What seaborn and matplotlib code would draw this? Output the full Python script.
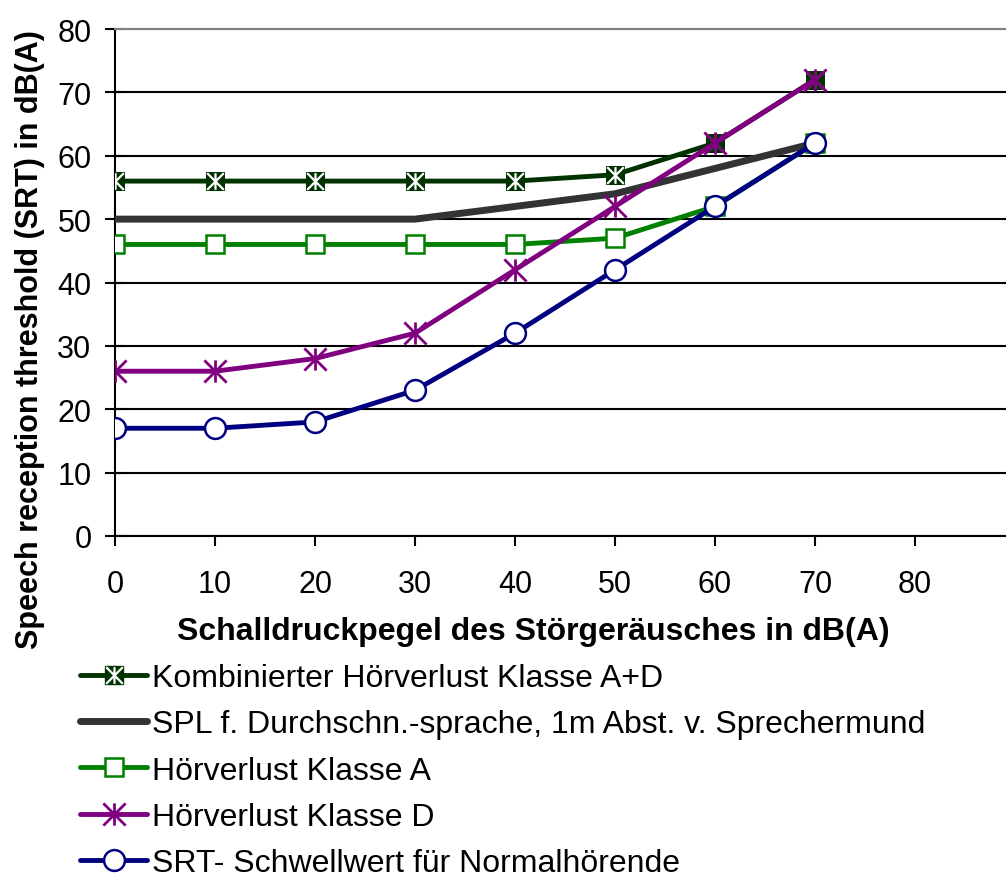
import matplotlib
matplotlib.use("Agg")
import matplotlib.pyplot as plt
import seaborn as sns
import pandas as pd
from matplotlib.legend_handler import HandlerTuple
from matplotlib.lines import Line2D
from matplotlib.path import Path

x_db = [0, 10, 20, 30, 40, 50, 60, 70]
kombiniert = [56, 56, 56, 56, 56, 57, 62, 72]
spl = [50, 50, 50, 50, 52, 54, 58, 62]
klasse_a = [46, 46, 46, 46, 46, 47, 52, 62]
klasse_d = [26, 26, 28, 32, 42, 52, 62, 72]
srt = [17, 17, 18, 23, 32, 42, 52, 62]

labels = [
    "Kombinierter Hörverlust Klasse A+D",
    "SPL f. Durchschn.-sprache, 1m Abst. v. Sprechermund",
    "Hörverlust Klasse A",
    "Hörverlust Klasse D",
    "SRT- Schwellwert für Normalhörende",
]
x_ticks = [0, 10, 20, 30, 40, 50, 60, 70, 80]
y_ticks = [0, 10, 20, 30, 40, 50, 60, 70, 80]

sns.set_theme(style="white")
plt.rcParams["font.family"] = ["Liberation Sans", "DejaVu Sans"]
plt.rcParams["text.color"] = "black"
plt.rcParams["axes.labelcolor"] = "black"
plt.rcParams["xtick.color"] = "black"
plt.rcParams["ytick.color"] = "black"

FS = 23
TFS = 22

# Excel-style star marker: X plus a vertical bar
star = Path([(0, -1), (0, 1), (-1, -1), (1, 1), (-1, 1), (1, -1)],
            [Path.MOVETO, Path.LINETO, Path.MOVETO, Path.LINETO, Path.MOVETO, Path.LINETO])

fig = plt.figure(figsize=(10.06, 8.78), dpi=100)
ax = fig.add_axes([115 / 1006, 1 - 537 / 878, 1 - 115 / 1006, (537 - 30) / 878])

df = pd.DataFrame({"x": x_db, "k": kombiniert, "s": spl, "a": klasse_a, "d": klasse_d, "r": srt})

lw = 3.5

sns.lineplot(data=df, x="x", y="k", ax=ax, color="#003300", lw=lw, marker="s",
             markersize=13.5, markerfacecolor="#003300", markeredgecolor="#003300", zorder=3)
sns.lineplot(data=df, x="x", y="k", ax=ax, color="#003300", lw=0, marker=star,
             markersize=12, markerfacecolor="none", markeredgecolor="white",
             markeredgewidth=1.6, zorder=3.1)
sns.lineplot(data=df, x="x", y="s", ax=ax, color="#333333", lw=5, zorder=3.2)
sns.lineplot(data=df, x="x", y="a", ax=ax, color="#008000", lw=lw, marker="s",
             markersize=13, markerfacecolor="white", markeredgecolor="#008000",
             markeredgewidth=1.8, zorder=3.3)
sns.lineplot(data=df, x="x", y="d", ax=ax, color="#800080", lw=lw, marker=star,
             markersize=16, markerfacecolor="none", markeredgecolor="#800080",
             markeredgewidth=2.0, zorder=3.4)
sns.lineplot(data=df, x="x", y="r", ax=ax, color="#000080", lw=lw, marker="o",
             markersize=15, markerfacecolor="white", markeredgecolor="#000080",
             markeredgewidth=1.8, zorder=3.5)

ax.set_xlim(0, 89.1)
ax.set_ylim(0, 80)
ax.set_xticks(x_ticks)
ax.set_yticks(y_ticks)
ax.set_xticklabels([str(v) for v in x_ticks], fontsize=TFS)
ax.set_yticklabels([str(v) for v in y_ticks], fontsize=TFS)
ax.tick_params(axis="y", direction="inout", length=14, width=1.5, color="black", pad=10, left=True)
ax.tick_params(axis="x", direction="out", length=7, width=1.5, color="black", pad=17, bottom=True)

ax.yaxis.grid(True, color="black", lw=1.5)
ax.xaxis.grid(False)
ax.get_ygridlines()[-1].set_color("#808080")
ax.spines["right"].set_visible(False)
ax.spines["top"].set_color("#808080")
ax.spines["top"].set_linewidth(1.5)
for side in ["left", "bottom"]:
    ax.spines[side].set_color("black")
    ax.spines[side].set_linewidth(1.5)

ax.set_xlabel("Schalldruckpegel des Störgeräusches in dB(A)", fontsize=FS, fontweight="bold")
ax.set_ylabel("Speech reception threshold (SRT) in dB(A)", fontsize=22, fontweight="bold")
ax.xaxis.set_label_coords((533 - 115) / (1006 - 115), -(632 - 537) / 507)
ax.xaxis.label.set_va("center")
ax.yaxis.set_label_coords(-(115 - 30) / 891, (537 - 340) / 507)
ax.yaxis.label.set_va("center")

h_k = (Line2D([], [], color="#003300", lw=lw, marker="s", markersize=13.5,
              markerfacecolor="#003300", markeredgecolor="#003300"),
       Line2D([], [], lw=0, marker=star, markersize=12, markerfacecolor="none",
              markeredgecolor="white", markeredgewidth=1.6))
h_s = Line2D([], [], color="#333333", lw=5)
h_a = Line2D([], [], color="#008000", lw=lw, marker="s", markersize=13,
             markerfacecolor="white", markeredgecolor="#008000", markeredgewidth=1.8)
h_d = Line2D([], [], color="#800080", lw=lw, marker=star, markersize=16,
             markerfacecolor="none", markeredgecolor="#800080", markeredgewidth=2.0)
h_r = Line2D([], [], color="#000080", lw=lw, marker="o", markersize=15,
             markerfacecolor="white", markeredgecolor="#000080", markeredgewidth=1.8)

fig.legend([h_k, h_s, h_a, h_d, h_r], labels, loc="upper left",
           bbox_to_anchor=(80 / 1006, 1 - 664 / 878), frameon=False, fontsize=FS,
           handlelength=2.1, handletextpad=0.15, labelspacing=0.51, borderaxespad=0,
           borderpad=0, handler_map={tuple: HandlerTuple(ndivide=1, pad=0)})

fig.savefig("out.png", dpi=100)
